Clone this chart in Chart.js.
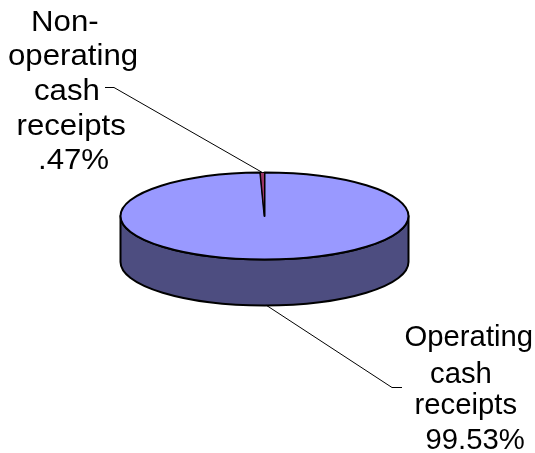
<!DOCTYPE html>
<html>
<head>
<meta charset="utf-8">
<style>
html, body { margin: 0; padding: 0; background: #fff; }
canvas { display: block; }
</style>
<script src="https://cdn.jsdelivr.net/npm/chart.js@4"></script>
</head>
<body>
<canvas id="pieChart" width="535" height="453"></canvas>
<script>
var categories = ['Operating cash receipts', 'Non-operating cash receipts'];
var shares = [99.53, 0.47];
var topColors = ['#9999FF', '#993366'];
var sideColors = ['#4D4D80', '#4D1A33'];
var operatingLines = ['Operating', 'cash', 'receipts', '99.53%'];
var nonOperatingLines = ['Non-', 'operating', 'cash', 'receipts', '.47%'];

var squash = 43.5 / 144;
var depth = 46;

function ellipseY(arc, y) {
    return arc.y + (y - arc.y) * squash;
}

function flatten(ctx, arc) {
    ctx.translate(arc.x, arc.y);
    ctx.scale(1, squash);
    ctx.translate(-arc.x, -arc.y);
}

function outline(ctx, arc, width) {
    ctx.lineWidth = width;
    ctx.beginPath();
    ctx.moveTo(arc.x, arc.y);
    ctx.ellipse(arc.x, arc.y, arc.outerRadius, arc.outerRadius * squash, 0, arc.startAngle, arc.endAngle);
    ctx.closePath();
    ctx.stroke();
}

var pie3d = {
    id: 'pie3d',
    beforeDatasetsDraw: function(chart) {
        var ctx = chart.ctx;
        var arcs = chart.getDatasetMeta(0).data;
        var cx = arcs[0].x;
        var cy = arcs[0].y;
        var r = arcs[0].outerRadius;

        // side wall, only the part facing the viewer
        ctx.save();
        ctx.lineWidth = 2;
        ctx.strokeStyle = '#000';
        ctx.lineJoin = 'round';
        arcs.forEach(function(arc, i) {
            var a = Math.max(arc.startAngle, 0);
            var b = Math.min(arc.endAngle, Math.PI);
            if (b <= a) return;
            ctx.beginPath();
            ctx.ellipse(cx, cy, r, r * squash, 0, a, b);
            ctx.ellipse(cx, cy + depth, r, r * squash, 0, b, a, true);
            ctx.closePath();
            ctx.fillStyle = sideColors[i];
            ctx.fill();
            ctx.stroke();
        });
        ctx.restore();

        // the library draws the slices into a flattened space
        ctx.save();
        flatten(ctx, arcs[0]);
    },
    afterDatasetsDraw: function(chart) {
        var ctx = chart.ctx;
        ctx.restore();

        var arcs = chart.getDatasetMeta(0).data;
        ctx.save();
        ctx.strokeStyle = '#000';
        ctx.lineJoin = 'round';
        outline(ctx, arcs[0], 2);

        // thin slice goes back on top so its colour is not lost under the outline
        ctx.save();
        flatten(ctx, arcs[1]);
        arcs[1].draw(ctx);
        ctx.restore();
        outline(ctx, arcs[1], 1);
        ctx.restore();

        drawLabels(chart, arcs);
    }
};

function drawText(ctx, line, x, y, stretch) {
    ctx.save();
    ctx.translate(x, y);
    ctx.scale(stretch, 1);
    ctx.fillText(line, 0, 0);
    ctx.restore();
}

function drawLabels(chart, arcs) {
    var ctx = chart.ctx;
    var big = arcs[0];
    var small = arcs[1];
    var bigMid = (big.startAngle + big.endAngle) / 2;
    var smallMid = (small.startAngle + small.endAngle) / 2;

    ctx.save();
    ctx.strokeStyle = '#000';
    ctx.lineWidth = 1;
    ctx.beginPath();
    ctx.moveTo(105, 87.5);
    ctx.lineTo(114, 87.5);
    ctx.lineTo(big.x + Math.cos(smallMid) * big.outerRadius, ellipseY(big, big.y + Math.sin(smallMid) * big.outerRadius));
    ctx.moveTo(big.x + Math.cos(bigMid) * big.outerRadius, ellipseY(big, big.y + Math.sin(bigMid) * big.outerRadius) + depth);
    ctx.lineTo(392, 387.5);
    ctx.lineTo(402, 387.5);
    ctx.stroke();

    ctx.fillStyle = '#000';
    ctx.textBaseline = 'alphabetic';
    ctx.textAlign = 'left';
    ctx.font = '30px "Liberation Sans", Arial, sans-serif';
    var leftX = [31, 8, 34, 16.5, 38];
    var leftY = [31, 65, 100, 135, 169];
    nonOperatingLines.forEach(function(line, i) {
        drawText(ctx, line, leftX[i], leftY[i], 1.04);
    });
    ctx.font = '29px "Liberation Sans", Arial, sans-serif';
    var rightX = [404.5, 430, 414.5, 425.5];
    var rightY = [346, 383, 414, 449];
    operatingLines.forEach(function(line, i) {
        drawText(ctx, line, rightX[i], rightY[i], 1.01);
    });
    ctx.restore();
}

new Chart(document.getElementById('pieChart'), {
    type: 'pie',
    data: {
        labels: categories,
        datasets: [{
            data: shares,
            backgroundColor: topColors,
            borderWidth: 0
        }]
    },
    options: {
        responsive: false,
        animation: false,
        radius: 144,
        layout: { padding: { left: 120.5, right: 126.5, top: 72, bottom: 93 } },
        plugins: {
            legend: { display: false },
            tooltip: { enabled: false }
        }
    },
    plugins: [pie3d]
});
</script>
</body>
</html>
